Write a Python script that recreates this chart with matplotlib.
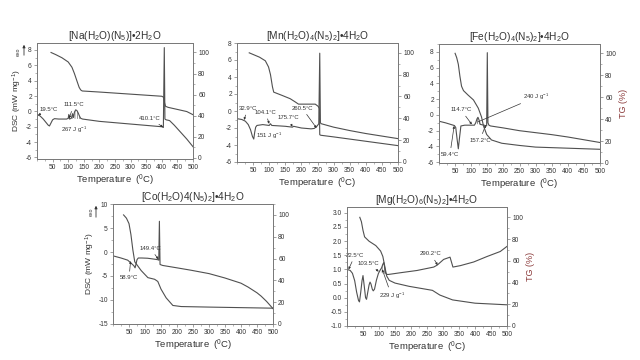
import numpy as np
import matplotlib
matplotlib.use('Agg')
import matplotlib.pyplot as plt
from matplotlib.ticker import MultipleLocator, FormatStrFormatter

plt.rcParams['font.family'] = ['Liberation Sans', 'DejaVu Sans']
plt.rcParams['mathtext.fontset'] = 'custom'
plt.rcParams['mathtext.rm'] = 'Liberation Sans'
plt.rcParams['mathtext.it'] = 'Liberation Sans:italic'
plt.rcParams['mathtext.bf'] = 'Liberation Sans:bold'
plt.rcParams['hatch.linewidth'] = 0.4

# ---------------- data ----------------
# [Na(H2O)(N5)]·2H2O
na_T_dsc = [0, 10, 20, 30, 36, 40, 45, 50, 56, 70, 95, 100, 102, 104, 110, 114, 117, 120, 124, 128,
            132, 136, 140, 146, 200, 300, 400, 405, 408, 410, 414, 425, 440, 460, 480, 500]
na_dsc = [-0.4, -0.6, -1.0, -1.5, -1.8, -1.9, -1.5, -1.1, -0.95, -1.0, -1.0, -0.9, -0.4, -1.0, -0.9,
          -0.3, -0.8, -0.1, 0.2, 0.1, -0.2, -0.6, -0.9, -1.0, -1.3, -1.65, -2.0, -2.1, 8.3, -1.0,
          -1.1, -1.2, -1.8, -2.7, -3.6, -4.6]
na_T_tg = [45, 60, 80, 100, 112, 120, 128, 135, 140, 145, 200, 300, 400, 406, 409, 412, 420, 450, 480, 500]
na_tg = [100, 98, 95, 91, 86, 80, 73, 67, 64.5, 63.5, 62.5, 60.5, 58.5, 57.5, 52, 49, 48, 46, 44, 41]

# [Mn(H2O)4(N5)2]·4H2O
mn_T_dsc = [0, 15, 26, 35, 42, 48, 52, 55, 58, 62, 80, 100, 104, 108, 130, 150, 172, 176, 200, 230,
            240, 248, 254, 257, 259, 262, 300, 350, 400, 450, 500]
mn_dsc = [-0.9, -1.0, -1.2, -1.6, -2.2, -3.0, -3.3, -2.5, -1.9, -1.7, -1.6, -1.7, -1.5, -1.7, -1.75,
          -1.8, -1.9, -1.8, -2.0, -2.1, -2.05, -1.8, -1.5, 6.8, -1.4, -1.5, -1.9, -2.3, -2.65, -2.95, -3.25]
mn_T_tg = [38, 50, 70, 88, 98, 104, 110, 114, 140, 165, 181, 191, 243, 252, 256, 257, 260, 300, 350, 400, 450, 500]
mn_tg = [100, 98.5, 96, 92.7, 87, 80, 69, 64, 61, 58, 55, 53, 53, 51, 49, 25, 24.5, 23, 21, 19, 17, 15]

# [Fe(H2O)4(N5)2]·4H2O
fe_T_dsc = [0, 20, 40, 48, 52, 56, 60, 64, 68, 80, 100, 110, 114, 118, 121, 124, 128, 140, 148, 150,
            152, 155, 160, 200, 250, 300, 350, 400, 450, 500]
fe_dsc = [-0.8, -1.0, -1.25, -1.35, -1.6, -3.0, -4.3, -2.8, -1.4, -1.3, -1.3, -1.3, -1.0, -0.5, -0.3,
          -0.6, -1.2, -1.3, -1.4, 7.9, -1.0, -1.3, -1.4, -1.65, -2.0, -2.25, -2.5, -2.8, -3.15, -3.5]
fe_T_tg = [50, 55, 60, 65, 70, 76, 90, 107, 122, 132, 138, 148, 163, 195, 250, 300, 400, 500]
fe_tg = [100, 96, 90, 79, 70, 66, 62, 57.5, 50, 42, 34, 26, 21, 18, 16, 14.5, 13.5, 12.5]

# [Co(H2O)4(N5)2]·4H2O
co_T_dsc = [0, 25, 46, 56, 65, 69, 72, 75, 79, 90, 108, 125, 140, 143, 145, 147, 155, 200, 244, 300,
            349, 400, 422, 450, 463, 480, 500]
co_dsc = [-0.8, -1.25, -1.7, -2.3, -2.85, -3.3, -2.5, -1.6, -1.25, -1.25, -1.3, -1.45, -1.6, -1.7, 6.4,
          -2.6, -2.8, -3.3, -3.8, -4.5, -5.4, -6.5, -7.3, -8.5, -9.2, -10.3, -11.8]
co_T_tg = [33, 42, 50, 56, 62, 68, 78, 88, 109, 130, 140, 150, 166, 187, 213, 300, 400, 500]
co_tg = [100, 97, 92, 82, 68, 57, 53, 49, 42.5, 41, 39, 32, 24, 17, 16, 15.5, 15, 14.5]

# [Mg(H2O)6(N5)2]·4H2O
mg_T_dsc = [0, 10, 17, 24, 30, 36, 39, 43, 47, 50, 54, 58, 61, 65, 69, 72, 75, 79, 82, 86, 92, 98,
            103, 108, 112, 115, 118, 121, 125, 130, 167, 219, 271, 282, 302, 322, 331, 354, 396, 437, 479, 500]
mg_dsc = [1.0, 0.96, 0.86, 0.6, 0.2, -0.1, -0.15, 0.2, 0.6, 0.78, 0.4, 0.0, -0.06, 0.2, 0.45, 0.55,
          0.48, 0.3, 0.24, 0.3, 0.62, 0.85, 0.96, 1.05, 1.18, 1.24, 1.05, 0.86, 0.82, 0.82, 0.88, 0.96,
          1.08, 1.15, 1.35, 1.43, 1.08, 1.13, 1.26, 1.45, 1.63, 1.81]
mg_T_tg = [40, 45, 50, 55, 69, 90, 105, 112, 118, 124, 132, 150, 194, 267, 290, 330, 400, 500]
mg_tg = [100, 96, 88, 82, 78, 74, 69, 64, 55, 46, 42, 39.5, 36.5, 32.8, 28.5, 24, 21, 19.5]

titles = [r'[Na(H$\mathregular{_2}$O)(N$\mathregular{_5}$)]•2H$\mathregular{_2}$O',
          r'[Mn(H$\mathregular{_2}$O)$\mathregular{_4}$(N$\mathregular{_5}$)$\mathregular{_2}$]•4H$\mathregular{_2}$O',
          r'[Fe(H$\mathregular{_2}$O)$\mathregular{_4}$(N$\mathregular{_5}$)$\mathregular{_2}$]•4H$\mathregular{_2}$O',
          r'[Co(H$\mathregular{_2}$O)4(N$\mathregular{_5}$)$\mathregular{_2}$]•4H$\mathregular{_2}$O',
          r'[Mg(H$\mathregular{_2}$O)$\mathregular{_6}$(N$\mathregular{_5}$)$\mathregular{_2}$]•4H$\mathregular{_2}$O']

# ---------------- style ----------------
LC = '#505050'
SC = '#7a7a7a'
TC = '#333333'
LW = 0.8

fig = plt.figure(figsize=(6.4, 3.6), dpi=100)


def px(x0, y0, x1, y1):
    return [x0 / 640, 1 - y1 / 360, (x1 - x0) / 640, (y1 - y0) / 360]


def panel(rect, title, Td, d, Tt, t, ylim_l, ylim_r, lmaj, lmin, fmt='%d',
          dsc_label=False, tg_label=False, hatch=None):
    ax = fig.add_axes(rect)
    ax.plot(Td, d, color=LC, lw=LW, zorder=3)
    ax.set_xlim(0, 500)
    ax.set_ylim(*ylim_l)
    ax.xaxis.set_major_locator(MultipleLocator(50))
    ax.xaxis.set_minor_locator(MultipleLocator(25))
    ax.yaxis.set_major_locator(MultipleLocator(lmaj))
    ax.yaxis.set_minor_locator(MultipleLocator(lmin))
    ax.yaxis.set_major_formatter(FormatStrFormatter(fmt))
    ax.set_xticks(np.arange(50, 501, 50))
    ax2 = ax.twinx()
    ax2.plot(Tt, t, color=LC, lw=LW, zorder=3)
    ax2.set_ylim(*ylim_r)
    ax2.set_yticks(np.arange(0, 101, 20))
    ax2.yaxis.set_minor_locator(MultipleLocator(10))
    for a in (ax, ax2):
        for s in a.spines.values():
            s.set_color(SC)
            s.set_linewidth(0.7)
        a.tick_params(which='major', direction='out', length=2.5, width=0.5,
                      labelsize=4.8, pad=1.2, color=SC, labelcolor=TC)
        a.tick_params(which='minor', direction='out', length=1.4, width=0.4, color=SC)
    ax.set_title(title, fontsize=7.3, pad=3, color=TC)
    ax.set_xlabel(r'Temperature  ($\mathregular{^0}$C)', fontsize=6.8, labelpad=1, color=TC)
    if dsc_label:
        ax.set_ylabel(r'DSC (mW mg$\mathregular{^{-1}}$)', fontsize=6, labelpad=1, color=TC)
    if tg_label:
        ax2.set_ylabel('TG (%)', fontsize=6.5, labelpad=2, color='#8B3A3A')
    if hatch is not None:
        lo, hi = hatch
        Ta = np.array(Td, float)
        da = np.array(d, float)
        m = (Ta >= lo) & (Ta <= hi)
        b0, b1 = np.interp(lo, Ta, da), np.interp(hi, Ta, da)
        base = b0 + (b1 - b0) * (Ta[m] - lo) / (hi - lo)
        ax.fill_between(Ta[m], da[m], base, hatch='|||||||', facecolor='none',
                        edgecolor=LC, lw=0, zorder=2)
    return ax, ax2


def note(ax, text, xy, xytext, arrow=True, fs=4.3):
    if arrow:
        ax.annotate(text, xy=xy, xytext=xytext, fontsize=fs, color=TC, ha='center', va='center',
                    arrowprops=dict(arrowstyle='-|>', lw=0.5, color=TC, mutation_scale=3,
                                    shrinkA=1, shrinkB=0))
    else:
        ax.text(xytext[0], xytext[1], text, fontsize=fs, color=TC, ha='center', va='center')


# Panel 1 - Na
a1, b1 = panel(px(37, 43, 193, 159), titles[0], na_T_dsc, na_dsc, na_T_tg, na_tg,
               (-6.2, 8.9), (-1, 109), 2, 1, dsc_label=True, hatch=(98, 146))
note(a1, '19.5°C', (4, -0.5), (36, 0.3))
note(a1, '111.5°C', (103, -0.9), (118, 0.85))
note(a1, r'267 J g$\mathregular{^{-1}}$', None, (118, -2.4), arrow=False)
note(a1, '410.1°C', (404, -2.05), (362, -0.9))

# Panel 2 - Mn
a2, b2 = panel(px(237, 43, 398, 162), titles[1], mn_T_dsc, mn_dsc, mn_T_tg, mn_tg,
               (-6, 8), (0, 109), 2, 1)
note(a2, '32.9°C', (22, -1.05), (33, 0.3))
note(a2, '104.1°C', (100, -1.5), (88, -0.15))
note(a2, '175.7°C', (172, -1.85), (158, -0.8))
note(a2, '260.5°C', (247, -2.0), (202, 0.35))
note(a2, r'151 J g$\mathregular{^{-1}}$', None, (100, -2.9), arrow=False)

# Panel 3 - Fe
a3, b3 = panel(px(439, 44, 600, 163), titles[2], fe_T_dsc, fe_dsc, fe_T_tg, fe_tg,
               (-6.1, 9.0), (0, 108.5), 2, 1, tg_label=True, hatch=(112, 128))
note(a3, '114.7°C', (102, -1.2), (68, 0.65))
note(a3, '157.2°C', (145, -1.3), (127, -3.2))
note(a3, '59.4°C', (47, -1.4), (34, -5.0))
a3.annotate(r'240 J g$\mathregular{^{-1}}$', xy=(120, -0.9), xytext=(262, 2.3), fontsize=4.3,
            color=TC, ha='left', va='center',
            arrowprops=dict(arrowstyle='-', lw=0.5, color=TC, shrinkA=0, shrinkB=0))

# Panel 4 - Co
a4, b4 = panel(px(113, 204, 273, 324), titles[3], co_T_dsc, co_dsc, co_T_tg, co_tg,
               (-15, 10), (0, 110), 5, 2.5, dsc_label=True)
note(a4, '149.4°C', (142, -1.5), (116, 0.8))
note(a4, '58.9°C', (55, -1.9), (50, -5.4))

# Panel 5 - Mg
a5, b5 = panel(px(347, 207, 507, 326), titles[4], mg_T_dsc, mg_dsc, mg_T_tg, mg_tg,
               (-1.0, 3.2), (0, 109.5), 0.5, 0.25, fmt='%.1f', tg_label=True, hatch=(100, 125))
note(a5, '22.5°C', (5, 1.0), (25, 1.5))
note(a5, '103.5°C', (99, 0.92), (68, 1.22))
note(a5, r'229 J g$\mathregular{^{-1}}$', (110, 1.0), (140, 0.05))
note(a5, '290.2°C', (283, 1.15), (262, 1.55))

# exo markers
for (tx, ty, ax_, y0, y1) in [(18, 52, 24, 58, 42), (91, 212, 96, 220, 203)]:
    fig.text(tx / 640, 1 - ty / 360, 'exo', rotation=90, fontsize=3.8, color=TC,
             ha='center', va='center')
    fig.add_artist(matplotlib.patches.FancyArrowPatch(
        (ax_ / 640, 1 - y0 / 360), (ax_ / 640, 1 - y1 / 360), transform=fig.transFigure,
        arrowstyle='-|>', mutation_scale=4, lw=0.6, color=TC))

fig.savefig('out.png', dpi=100, facecolor='white')
